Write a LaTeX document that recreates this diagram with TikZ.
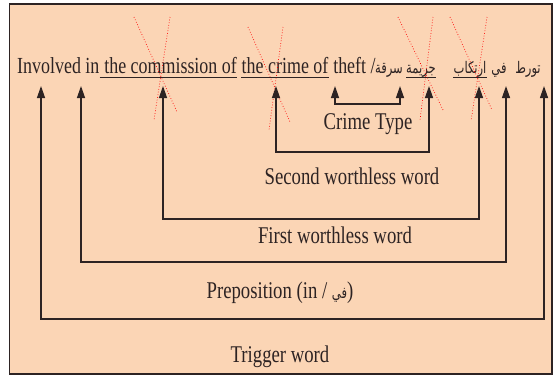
\documentclass[tikz,border=0pt]{standalone}
\usepackage{fontspec}
\setmainfont{Liberation Serif}[FakeStretch=0.78]
\newfontfamily\arabicfont[Script=Arabic,FakeStretch=0.72]{DejaVu Sans}
\TeXXeTstate=1
\usetikzlibrary{arrows.meta}
\definecolor{peach}{RGB}{251,213,181}
\definecolor{ink}{RGB}{45,35,35}
\begin{document}
\begin{tikzpicture}[x=1pt,y=-1pt,
  conn/.style={draw=ink,line width=1.3pt,
    {Triangle[length=12pt,width=8pt]}-{Triangle[length=12pt,width=8pt]}},
  cross/.style={red,dotted,line width=0.7pt},
  uline/.style={ink,line width=1pt},
  word/.style={inner sep=0pt,anchor=base west,text=ink,font=\fontsize{23}{27}\selectfont},
  arword/.style={inner sep=0pt,anchor=base,text=ink,font=\fontsize{16}{20}\arabicfont},
  lbl/.style={inner sep=0pt,anchor=base,text=ink,font=\fontsize{24}{28}\selectfont}]
\useasboundingbox (0,0) rectangle (559,376);

% frame
\path[fill=peach,draw=ink,line width=1.3pt] (9.5,4) rectangle (552,374);

% English sentence
\node[word] (w1) at (17,73) {Involved in};
\node[word] (w2) at (w1.base east) {\ the commission of};
\node[word] (w3) at (w2.base east) {\ the crime of};
\node[word] (w4) at (w3.base east) {\ theft /};
\draw[uline] ([yshift=-4.5pt]w2.base west) -- ([yshift=-4.5pt]w2.base east);
\draw[uline] ([xshift=4pt,yshift=-4.5pt]w3.base west) -- ([yshift=-4.5pt]w3.base east);

% Arabic sentence
\node[arword] (sariqa) at (389,73) {\beginR سرقة\endR};
\node[arword] (jarima) at (421,73) {\beginR جريمة\endR};
\node[arword] (irtikab) at (470,73) {\beginR ارتكاب\endR};
\node[arword] (fi) at (499,73) {\beginR في\endR};
\node[arword] (tawarrut) at (528,73) {\beginR تورط\endR};
\draw[uline] ([yshift=-4.5pt]jarima.base west) -- ([yshift=-4.5pt]jarima.base east);
\draw[uline] ([yshift=-4.5pt]irtikab.base west) -- ([yshift=-4.5pt]irtikab.base east);

% struck-out words
\draw[cross] (134,17) -- (177,112);  \draw[cross] (170,17) -- (154,120);
\draw[cross] (248,27) -- (290,122);  \draw[cross] (283,27) -- (269,130);
\draw[cross] (398,17) -- (443,110);  \draw[cross] (433,17) -- (420,120);
\draw[cross] (450,17) -- (492,110);  \draw[cross] (487,17) -- (471,121);

% arrow tips under the words
\coordinate (tInv) at (41,86);
\coordinate (tIn) at (81,86);
\coordinate (tComm) at (163,86);
\coordinate (tCrime) at (276,86);
\coordinate (tTheft) at (335,86);
\coordinate (tSariqa) at (400,86);
\coordinate (tJarima) at (429,86);
\coordinate (tIrtikab) at (479,86);
\coordinate (tFi) at (506,86);
\coordinate (tTawarrut) at (544,86);

% bracket levels
\coordinate (lvType) at (368,104);
\coordinate (lvSecond) at (352,152);
\coordinate (lvFirst) at (335,219);
\coordinate (lvPrep) at (280,262);
\coordinate (lvTrig) at (280,319);

\draw[conn] (tTheft) |- (lvType) -| (tSariqa);
\draw[conn] (tCrime) |- (lvSecond) -| (tJarima);
\draw[conn] (tComm) |- (lvFirst) -| (tIrtikab);
\draw[conn] (tIn) |- (lvPrep) -| (tFi);
\draw[conn] (tInv) |- (lvTrig) -| (tTawarrut);

% labels
\node[lbl] (crimeType) at (368,129) {Crime Type};
\node[lbl] (second) at (352,184) {Second worthless word};
\node[lbl] (first) at (335,243) {First worthless word};
\node[lbl] (prep) at (280,298) {Preposition (in / {\arabicfont\fontsize{16}{20}\selectfont\beginR في\endR})};
\node[lbl] (trigger) at (280,362) {Trigger word};
\end{tikzpicture}
\end{document}
